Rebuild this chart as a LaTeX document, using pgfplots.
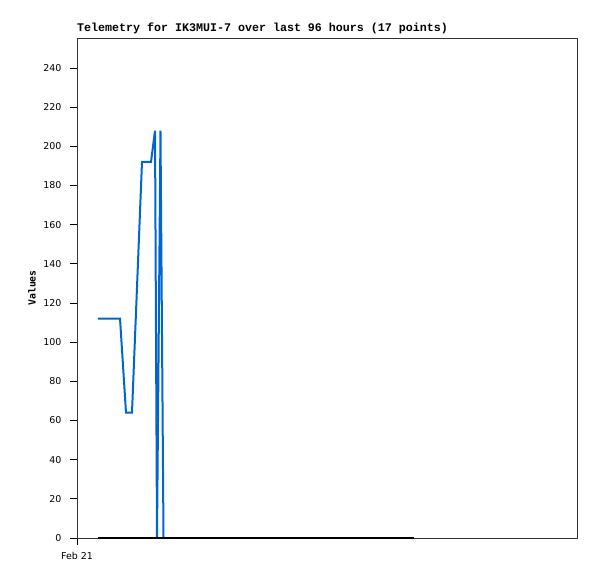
\documentclass[border=0pt]{standalone}
\usepackage{fontspec}
\setmainfont{DejaVu Sans}
\newfontfamily\titlefont{Liberation Mono}
\newfontfamily\tickfont{DejaVu Sans Mono}
\usepackage{pgfplots}
\pgfplotsset{compat=1.18}
\definecolor{telblue}{RGB}{0,102,204}
\definecolor{framegray}{RGB}{51,51,51}

\begin{document}
\begin{tikzpicture}
\useasboundingbox (-77bp,-41bp) rectangle (520bp,538bp);
\begin{axis}[
    scale only axis,
    width=500bp, height=500bp,
    xmin=0, xmax=96,
    ymin=0, ymax=255.3,
    xtick={0}, xticklabels={Feb 21},
    ytick={0,20,...,240},
    xtick pos=bottom, ytick pos=left,
    tick align=outside,
    major tick length=7bp,
    tick style={black, line width=0.8bp},
    axis line style={framegray, line width=0.8bp},
    /pgf/number format/assume math mode=true,
    tick label style={font=\fontsize{9.5}{9.5}\selectfont},
    yticklabel style={xshift=-5bp},
    xticklabel style={yshift=-4bp},
    title={\titlefont\bfseries\fontsize{11.7}{11.7}\selectfont Telemetry for IK3MUI-7 over last 96 hours (17 points)},
    title style={at={(axis description cs:0,1)}, anchor=south west, inner sep=0pt, yshift=-2bp},
    ylabel={\tickfont\bfseries\fontsize{9.8}{9.8}\selectfont Values},
    ylabel style={at={(axis description cs:-0.09,0.5)}, rotate=0, anchor=center},
    clip=false,
]
\addplot[telblue, line width=2bp] coordinates {
    (4.03,112)(8.26,112)(9.41,64)(10.56,64)(12.48,192)(14.21,192)
    (14.98,208)(15.36,0)(16.03,208)(16.61,0)
};
\addplot[black, line width=2bp] coordinates {
    (4.03,0)(64.7,0)
};
\end{axis}
\end{tikzpicture}
\end{document}
